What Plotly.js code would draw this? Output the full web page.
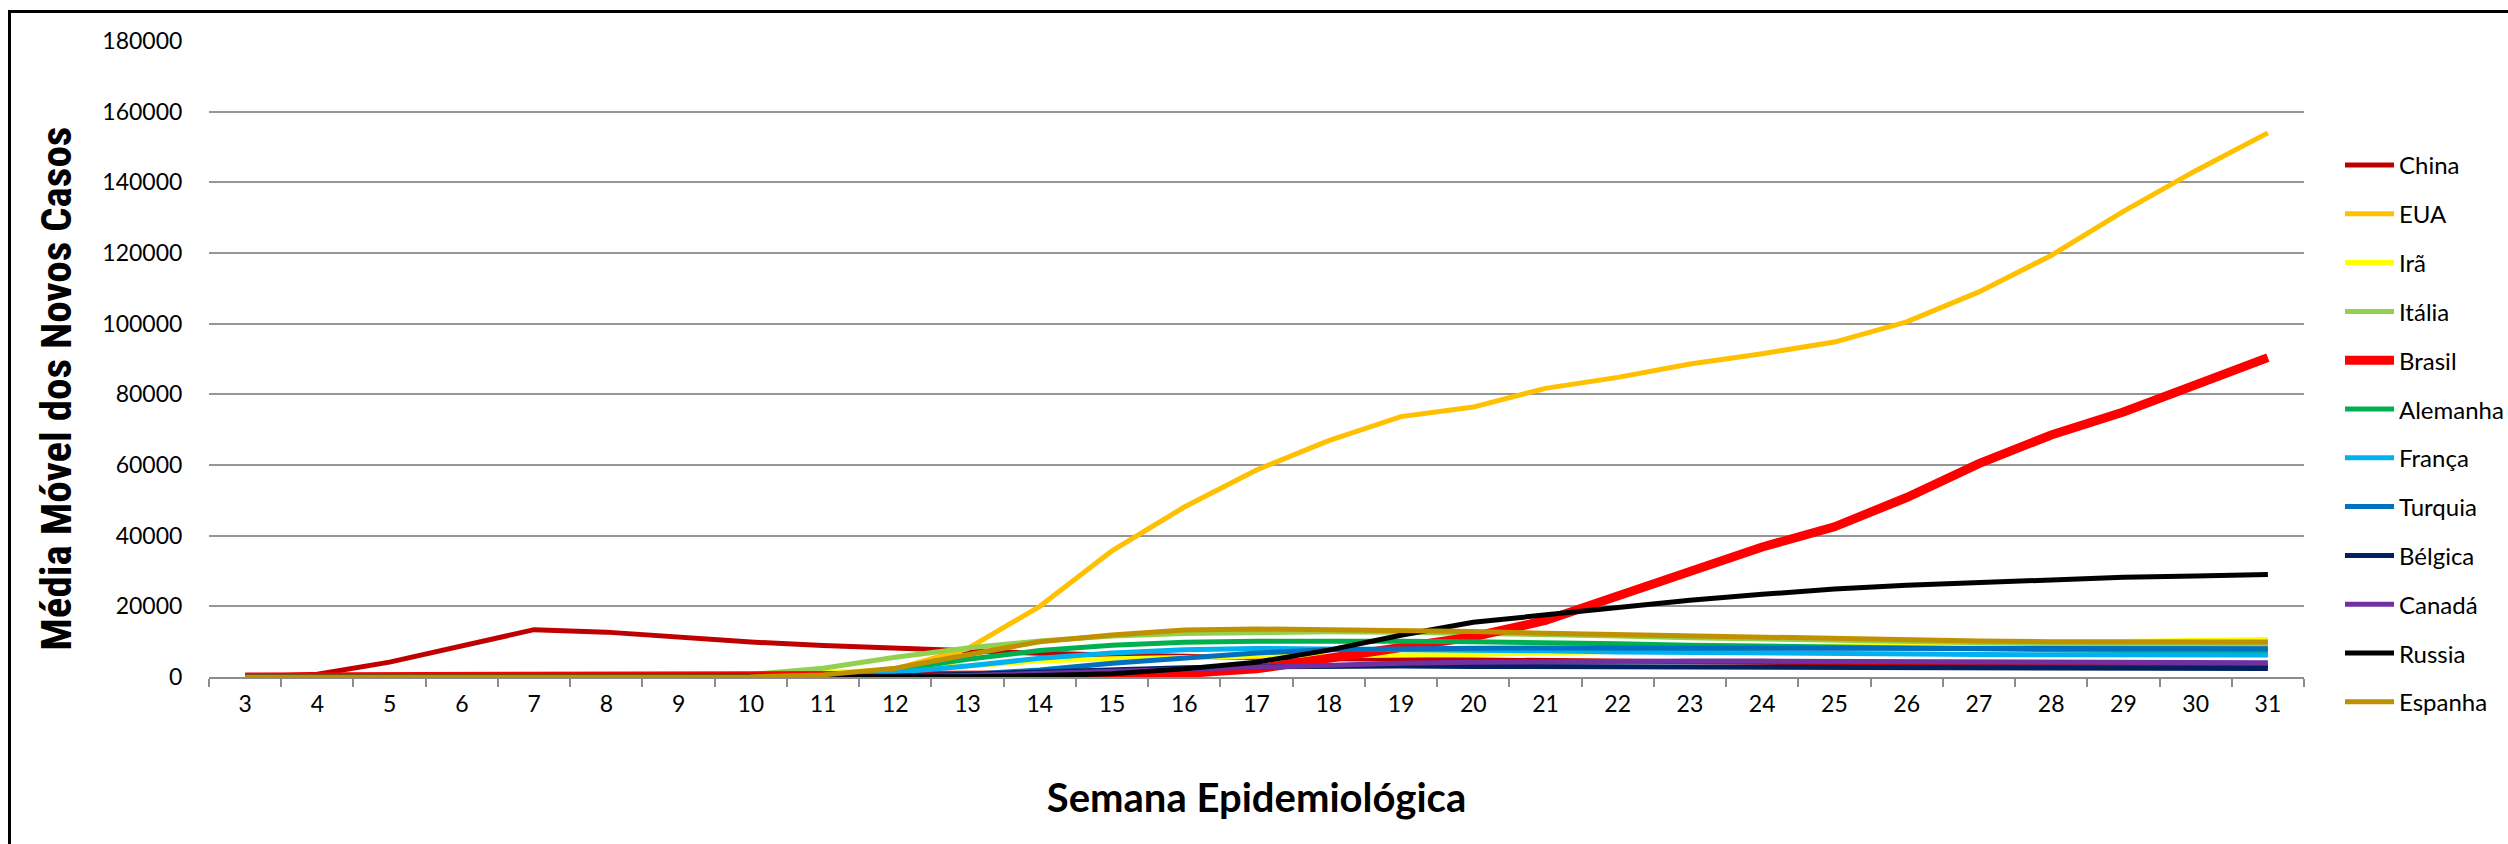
<!DOCTYPE html>
<html>
<head>
<meta charset="utf-8">
<script src="https://cdn.plot.ly/plotly-3.0.1.min.js"></script>
<style>
  html, body { margin: 0; padding: 0; background: #ffffff; }
  #chart { width: 2508px; height: 844px; }
</style>
</head>
<body>
<div id="chart"></div>
<script>
// Epidemiological weeks (categories)
const weeks = ['3','4','5','6','7','8','9','10','11','12','13','14','15','16','17','18','19','20','21','22','23','24','25','26','27','28','29','30','31'];

// Series values (one per week, 3..31)
const china    = [0, 800, 4200, 8800, 13400, 12700, 11200, 9900, 8900, 8100, 7400, 6700, 6200, 5800, 5500, 5200, 5000, 4800, 4600, 4400, 4200, 4000, 3850, 3700, 3550, 3400, 3250, 3100, 3000];
const eua      = [0, 0, 0, 0, 0, 0, 0, 50, 300, 2300, 8000, 20000, 35700, 48100, 58600, 66900, 73700, 76400, 81700, 84800, 88600, 91500, 94800, 100500, 109000, 119300, 131800, 143300, 154000];
const ira      = [0, 0, 0, 0, 0, 10, 100, 700, 1400, 2000, 3200, 4500, 5200, 5600, 5900, 6000, 6100, 6400, 6800, 7300, 7900, 8300, 8700, 9100, 9500, 9800, 10000, 10300, 10600];
const italia   = [0, 0, 0, 0, 0, 10, 150, 700, 2500, 5600, 8200, 10200, 11600, 12300, 12700, 12800, 12700, 12400, 12000, 11600, 11100, 10700, 10300, 9950, 9600, 9300, 9050, 8850, 8700];
const brasil   = [0, 0, 0, 0, 0, 0, 0, 0, 10, 100, 250, 400, 600, 1000, 2300, 5300, 8300, 11400, 16000, 22900, 30200, 36800, 42500, 50800, 60400, 68500, 75000, 82400, 90400];
const alemanha = [0, 0, 0, 0, 0, 0, 10, 100, 400, 2000, 5000, 7500, 9000, 9800, 10100, 10200, 10100, 10000, 9800, 9400, 9000, 8700, 8400, 8100, 7900, 7700, 7500, 7400, 7300];
const franca   = [0, 0, 0, 0, 0, 0, 10, 100, 400, 1300, 3100, 5300, 6800, 7700, 8100, 8000, 7800, 7600, 7400, 7100, 6900, 6700, 6550, 6450, 6350, 6300, 6250, 6200, 6200];
const turquia  = [0, 0, 0, 0, 0, 0, 0, 0, 0, 100, 700, 2000, 3900, 5500, 6800, 7700, 8000, 8150, 8200, 8150, 8100, 8100, 8100, 8100, 8100, 8050, 8000, 8000, 8000];
const belgica  = [0, 0, 0, 0, 0, 0, 0, 20, 60, 300, 800, 1500, 2100, 2600, 2900, 3100, 3100, 3000, 2950, 2900, 2800, 2700, 2650, 2600, 2550, 2500, 2450, 2400, 2400];
const canada   = [0, 0, 0, 0, 0, 0, 0, 5, 30, 130, 450, 1000, 1700, 2400, 2900, 3400, 3900, 4200, 4400, 4500, 4500, 4500, 4400, 4350, 4250, 4150, 4100, 4000, 4000];
const russia   = [0, 0, 0, 0, 0, 0, 0, 0, 0, 0, 100, 400, 900, 2300, 4200, 7600, 11800, 15500, 17500, 19800, 21700, 23400, 24900, 26000, 26800, 27500, 28200, 28600, 29000];
const espanha  = [0, 0, 0, 0, 0, 0, 0, 50, 600, 2500, 6300, 10000, 11900, 13300, 13600, 13400, 13100, 12900, 12400, 12000, 11600, 11200, 10800, 10500, 10200, 10000, 9900, 9900, 9900];

const seriesNames  = ['China','EUA','Irã','Itália','Brasil','Alemanha','França','Turquia','Bélgica','Canadá','Russia','Espanha'];
const seriesValues = [china, eua, ira, italia, brasil, alemanha, franca, turquia, belgica, canada, russia, espanha];
const seriesColors = ['#C00000','#FFC000','#FFFF00','#92D050','#FF0000','#00B050','#00B0F0','#0070C0','#002060','#7030A0','#000000','#BF9000'];
const seriesWidths = [5, 5, 5, 5, 9, 5, 5, 5, 5, 5, 5, 5];

const traces = seriesNames.map((name, i) => ({
  type: 'scatter',
  mode: 'lines',
  name: name,
  x: weeks,
  y: seriesValues[i],
  showlegend: false,
  line: { color: seriesColors[i], width: seriesWidths[i], shape: 'linear' },
  hoverinfo: 'skip'
}));

// plot area geometry (pixels) used for border / legend placement
const L = 209, R = 2304, T = 41, B = 677;
const px2x = px => (px - L) / (R - L);
const py2y = py => (B - py) / (B - T);

const NB = '\u00A0';

// Legend (drawn as line samples + labels at the right of the plot)
const legendTop = 165, legendStep = 48.8;
const legendShapes = seriesNames.map((name, i) => ({
  type: 'line', xref: 'paper', yref: 'paper',
  x0: px2x(2345), x1: px2x(2394),
  y0: py2y(legendTop + i * legendStep), y1: py2y(legendTop + i * legendStep),
  line: { color: seriesColors[i], width: seriesWidths[i] }
}));
const legendLabels = seriesNames.map((name, i) => ({
  xref: 'paper', yref: 'paper',
  x: px2x(2397), y: py2y(legendTop + i * legendStep),
  xanchor: 'left', yanchor: 'middle',
  text: name, showarrow: false,
  font: { family: 'Lato, "Open Sans", sans-serif', size: 24, color: '#000000' }
}));

const layout = {
  width: 2508,
  height: 844,
  margin: { l: L, r: 2508 - R, t: T, b: 844 - B, pad: 0 },
  paper_bgcolor: '#ffffff',
  plot_bgcolor: '#ffffff',
  font: { family: 'Lato, "Open Sans", sans-serif', size: 23, color: '#000000' },
  showlegend: false,
  xaxis: {
    type: 'category',
    range: [-0.5, weeks.length - 0.5],
    tickson: 'boundaries',
    ticks: 'outside',
    ticklen: 8,
    tickwidth: 2,
    tickcolor: '#8C8C8C',
    ticklabelstandoff: 5,
    showline: true,
    linecolor: '#8C8C8C',
    linewidth: 2,
    showgrid: false,
    zeroline: false,
    fixedrange: true,
    tickfont: { family: 'Lato, "Open Sans", sans-serif', size: 23, color: '#000000' },
    title: {
      text: '<b>Semana Epidemiológica</b>',
      font: { family: 'Lato, "Open Sans", sans-serif', size: 40, color: '#000000' },
      standoff: 68
    },
    automargin: false
  },
  yaxis: {
    range: [0, 180000],
    dtick: 20000,
    tick0: 0,
    tickformat: 'd',
    ticks: 'outside',
    ticklen: 21,
    tickcolor: 'rgba(0,0,0,0)',
    showline: false,
    showgrid: true,
    gridcolor: '#969696',
    gridwidth: 2,
    zeroline: false,
    fixedrange: true,
    tickfont: { family: 'Lato, "Open Sans", sans-serif', size: 23, color: '#000000' },
    title: {
      text: '<b>Média Móvel dos Novos Casos' + NB.repeat(6) + '</b>',
      font: { family: '"Liberation Sans Narrow", "Roboto Condensed", "Liberation Sans", sans-serif', size: 43, color: '#000000' },
      standoff: 17
    },
    automargin: false
  },
  annotations: legendLabels,
  shapes: [
    { type: 'line', xref: 'paper', yref: 'paper', x0: px2x(9.5), x1: px2x(9.5), y0: py2y(10), y1: py2y(900), line: { color: '#000000', width: 3 } },
    { type: 'line', xref: 'paper', yref: 'paper', x0: px2x(8), x1: px2x(2600), y0: py2y(11.5), y1: py2y(11.5), line: { color: '#000000', width: 3 } }
  ].concat(legendShapes)
};

Plotly.newPlot('chart', traces, layout, { staticPlot: true, displayModeBar: false });
</script>
</body>
</html>
